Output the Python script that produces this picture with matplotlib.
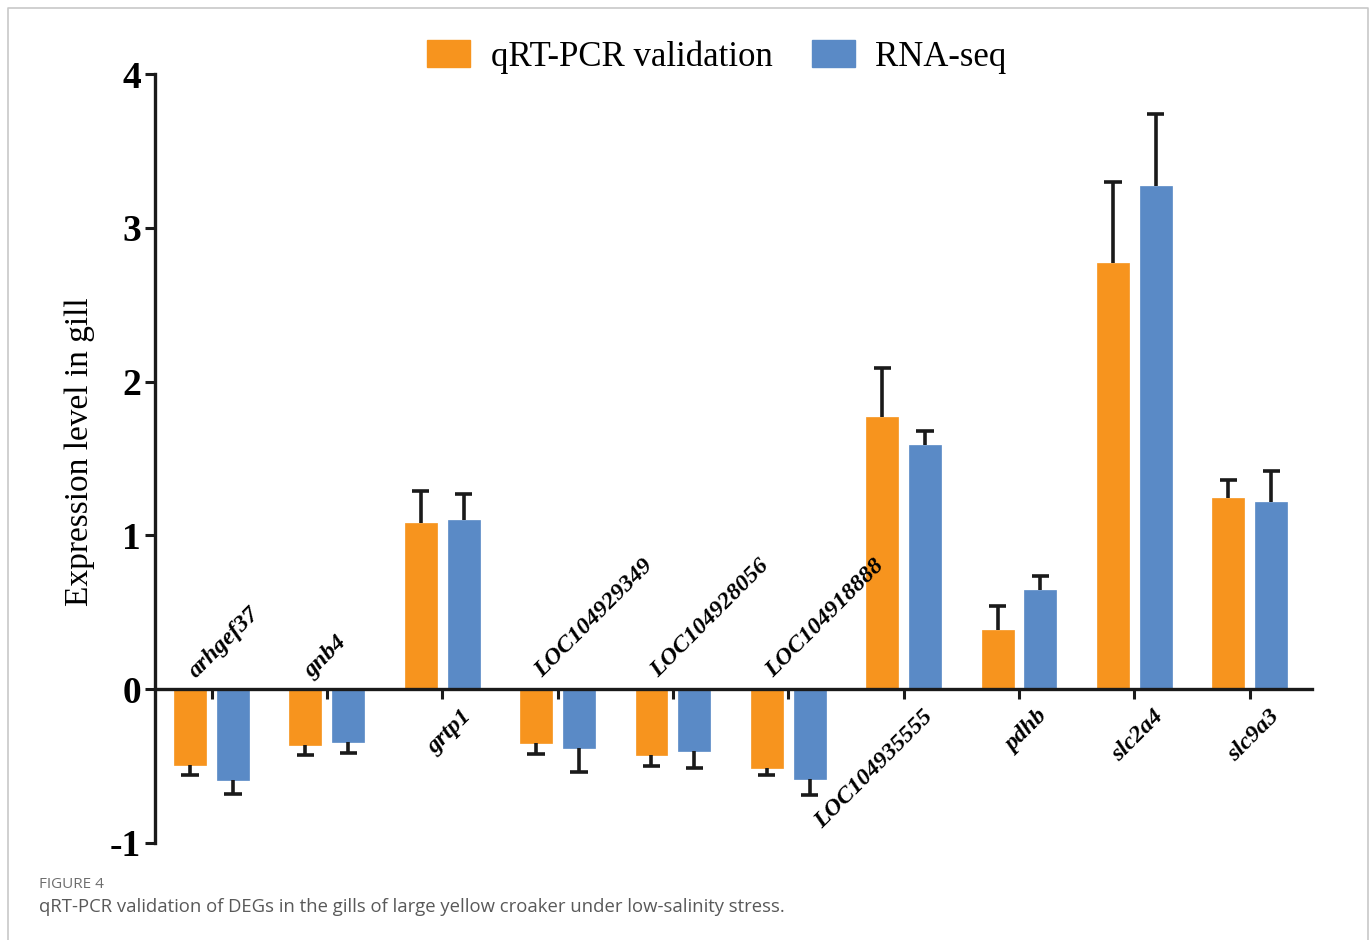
"""qRT-PCR validation of DEGs in the gills (Figure 4)."""
import matplotlib

matplotlib.use("Agg")
import matplotlib.pyplot as plt
import numpy as np
from matplotlib.lines import Line2D
from matplotlib.patches import Patch

GENES = ["arhgef37", "gnb4", "grtp1", "LOC104929349", "LOC104928056",
         "LOC104918888", "LOC104935555", "pdhb", "slc2a4", "slc9a3"]
QPCR = [-0.49, -0.36, 1.08, -0.35, -0.43, -0.51, 1.77, 0.385, 2.77, 1.24]
QPCR_ERR = [0.07, 0.07, 0.21, 0.07, 0.07, 0.05, 0.32, 0.155, 0.53, 0.12]
RNASEQ = [-0.59, -0.345, 1.10, -0.38, -0.40, -0.585, 1.59, 0.645, 3.27, 1.22]
RNASEQ_ERR = [0.09, 0.07, 0.17, 0.16, 0.11, 0.105, 0.09, 0.09, 0.47, 0.20]
SERIES = ["qRT-PCR validation", "RNA-seq"]
Y_TICKS = [-1, 0, 1, 2, 3, 4]

ORANGE = "#F7941E"
BLUE = "#5A8AC6"
INK = "#1a1a1a"
SERIF = "Liberation Serif"


fig = plt.figure(figsize=(13.72, 9.40), dpi=100)
ax = fig.add_axes([155 / 1372, 1 - 843 / 940, (1312 - 155) / 1372, (843 - 74) / 940])

x = np.arange(len(GENES))
offset, width, cap = 0.186, 0.277, 0.075
for vals, errs, shift, color in [(QPCR, QPCR_ERR, -offset, ORANGE), (RNASEQ, RNASEQ_ERR, offset, BLUE)]:
    vals = np.asarray(vals)
    errs = np.asarray(errs)
    pos = x + shift
    ax.bar(pos, vals, width=width, color=color, edgecolor=color, linewidth=0.5, zorder=2)
    # one-sided error bars pointing away from zero, cap only at the outer end
    ends = vals + np.sign(vals) * errs
    ax.vlines(pos, vals, ends, color=INK, linewidth=2.6, zorder=3)
    ax.hlines(ends, pos - cap, pos + cap, color=INK, linewidth=2.6, zorder=3)

ax.set_xlim(-0.49, len(GENES) - 1 + 0.54)
ax.set_ylim(-1, 4)
ax.set_yticks(Y_TICKS)
ax.set_yticklabels([str(t) for t in Y_TICKS], fontfamily=SERIF, fontweight="bold", fontsize=27)
ax.tick_params(axis="y", direction="out", length=7, width=2.2, pad=3, color=INK)
ax.set_xticks(x)
ax.set_xticklabels([])
ax.tick_params(axis="x", direction="out", length=7, width=2.2, color=INK)

ax.spines[["top", "right"]].set_visible(False)
ax.spines["bottom"].set_position(("data", 0))
for side in ["left", "bottom"]:
    ax.spines[side].set_linewidth(2.4)
    ax.spines[side].set_color(INK)
ax.patch.set_alpha(0)

# gene labels: above the zero line for down-regulated genes, below for up-regulated
for i, gene in enumerate(GENES):
    if QPCR[i] < 0:
        ax.text(i - 0.1, 0.05, gene, rotation=45, rotation_mode="anchor", ha="left", va="bottom",
                fontfamily=SERIF, fontweight="bold", fontstyle="italic", fontsize=17.5)
    else:
        ax.text(i + 0.16, -0.11, gene, rotation=45, rotation_mode="anchor", ha="right", va="top",
                fontfamily=SERIF, fontweight="bold", fontstyle="italic", fontsize=17.5)

fig.text(80 / 1372, 0.519, "Expression level in gill", rotation=90, ha="center", va="center",
         fontfamily=SERIF, fontsize=24)

handles = [Patch(facecolor=ORANGE, edgecolor=ORANGE), Patch(facecolor=BLUE, edgecolor=BLUE)]
fig.legend(handles, SERIES, loc="center", bbox_to_anchor=(717 / 1372, 1 - 57 / 940), ncol=2,
           frameon=False, prop={"family": SERIF, "size": 25}, handlelength=1.24, handleheight=0.8,
           handletextpad=0.58, columnspacing=1.15)

# page frame and caption
fig.add_artist(Line2D([8 / 1372, 8 / 1372, 1368 / 1372, 1368 / 1372], [0, 1 - 8 / 940, 1 - 8 / 940, 0],
                      transform=fig.transFigure, color="#C8C8C8", linewidth=1.2))
fig.text(39 / 1372, 1 - 884 / 940, "FIGURE 4", ha="left", va="center", fontfamily="Open Sans",
         fontsize=11, color="#6E6E6E")
fig.text(39 / 1372, 1 - 907 / 940,
         "qRT-PCR validation of DEGs in the gills of large yellow croaker under low-salinity stress.",
         ha="left", va="center", fontfamily="Open Sans", fontsize=13.3, color="#595959")

fig.savefig("out.png", dpi=100)
